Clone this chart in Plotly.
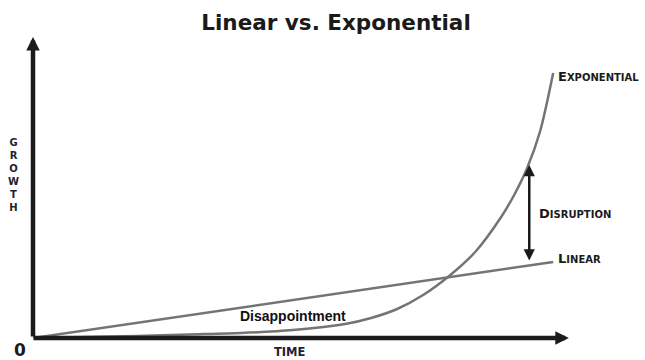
import plotly.graph_objects as go

# Time axis (arbitrary units) and growth index for the two trajectories
time_exp = [0, 1, 2, 3, 4, 5, 6, 6.5, 7, 7.5, 8, 8.5, 9, 9.25, 9.5, 9.75, 10]
growth_exp = [0, 1, 2, 3.5, 5, 8, 14, 20, 29, 43, 62, 86, 121, 143, 170, 207, 265]

time_lin = [0, 10]
growth_lin = [0, 76]

# Disruption gap marker: time and growth bounds
disruption_t = 9.54
disruption_low = 76
disruption_high = 173

INK = "#1b1b1b"
CURVE = "#747474"
LABEL_FONT = "DejaVu Sans"

fig = go.Figure()

fig.add_trace(go.Scatter(
    x=time_lin, y=growth_lin, mode="lines",
    line=dict(color=CURVE, width=2.5), hoverinfo="skip",
))
fig.add_trace(go.Scatter(
    x=time_exp, y=growth_exp, mode="lines",
    line=dict(color=CURVE, width=2.5, shape="spline", smoothing=0.8),
    hoverinfo="skip",
))

x_max = 10.9
y_max = 301

annotations = [
    # y axis arrow
    dict(x=0, y=y_max, ax=0, ay=0, xref="x", yref="y", axref="x", ayref="y",
         text="", showarrow=True, arrowhead=2, arrowsize=0.6, arrowwidth=4.5,
         arrowcolor=INK, standoff=0),
    # x axis arrow
    dict(x=10.3, y=0, ax=-0.02, ay=0, xref="x", yref="y", axref="x", ayref="y",
         text="", showarrow=True, arrowhead=2, arrowsize=0.6, arrowwidth=4.5,
         arrowcolor=INK, standoff=0),
    # disruption double arrow
    dict(x=disruption_t, y=disruption_high, ax=disruption_t, ay=disruption_low,
         xref="x", yref="y", axref="x", ayref="y", text="", showarrow=True,
         arrowhead=2, startarrowhead=2, arrowside="end+start", arrowsize=0.9,
         startarrowsize=0.9, arrowwidth=2.5, arrowcolor=INK, standoff=0,
         startstandoff=0),
    # curve labels
    dict(x=10.06, y=262, xref="x", yref="y", xanchor="left", yanchor="middle",
         showarrow=False,
         text="<b>E<span style='font-size:10px'>XPONENTIAL</span></b>",
         font=dict(family=LABEL_FONT, size=13, color=INK)),
    dict(x=10.06, y=80, xref="x", yref="y", xanchor="left", yanchor="middle",
         showarrow=False,
         text="<b>L<span style='font-size:10px'>INEAR</span></b>",
         font=dict(family=LABEL_FONT, size=13, color=INK)),
    dict(x=9.69, y=125, xref="x", yref="y", xanchor="left", yanchor="middle",
         showarrow=False,
         text="<b>D<span style='font-size:10px'>ISRUPTION</span></b>",
         font=dict(family=LABEL_FONT, size=13, color=INK)),
    dict(x=5.0, y=22, xref="x", yref="y", xanchor="center", yanchor="middle",
         showarrow=False, text="<b>Disappointment</b>",
         font=dict(family="Liberation Sans", size=14, color="#111111")),
    # axis labels
    dict(x=-0.035, y=0.54, xref="paper", yref="paper", xanchor="center",
         yanchor="middle", showarrow=False,
         text="<b>G<br>R<br>O<br>W<br>T<br>H</b>",
         font=dict(family=LABEL_FONT, size=10, color="#1f2233")),
    dict(x=-0.023, y=-0.04, xref="paper", yref="paper", xanchor="center",
         yanchor="middle", showarrow=False, text="<b>0</b>",
         font=dict(family=LABEL_FONT, size=17, color=INK)),
    dict(x=0.453, y=-0.047, xref="paper", yref="paper", xanchor="center",
         yanchor="middle", showarrow=False, text="<b>TIME</b>",
         font=dict(family=LABEL_FONT, size=11.5, color="#1f2233")),
]

fig.update_layout(
    width=645, height=360,
    margin=dict(l=33, r=45, t=37, b=22),
    paper_bgcolor="white", plot_bgcolor="white",
    showlegend=False,
    title=dict(text="<b>Linear vs. Exponential</b>", x=0.521, xanchor="center",
               y=1 - 22 / 360, yanchor="middle", yref="container",
               font=dict(family="DejaVu Sans", size=21.5, color="#1a1a1a")),
    xaxis=dict(range=[0, x_max], visible=False, fixedrange=True),
    yaxis=dict(range=[0, y_max], visible=False, fixedrange=True),
    annotations=annotations,
)

fig.write_html("out.html")
